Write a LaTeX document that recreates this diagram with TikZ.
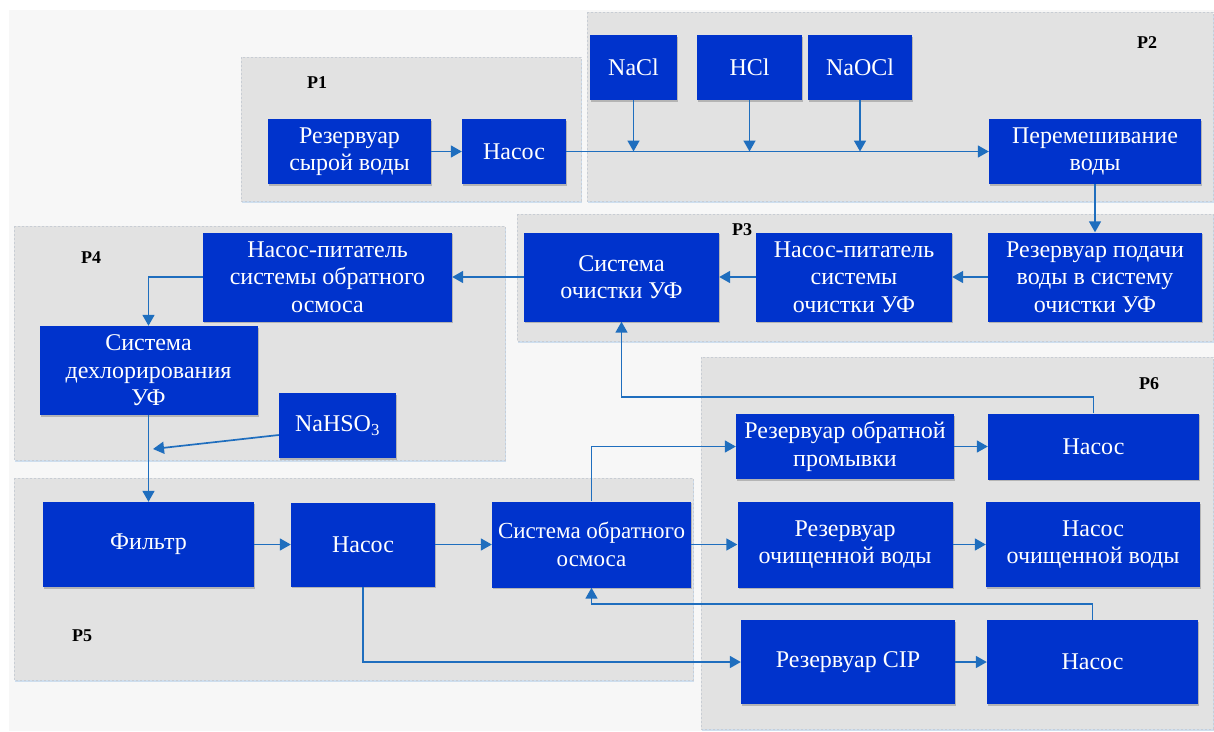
\documentclass[tikz,border=0pt]{standalone}
\usepackage{fontspec}
\setmainfont{Liberation Serif}
\newfontfamily\boxserif{Liberation Serif}
\usetikzlibrary{arrows.meta,shadows}
\definecolor{boxblue}{RGB}{0,51,204}
\definecolor{linkblue}{RGB}{31,110,190}
\definecolor{panelgray}{RGB}{226,226,226}
\definecolor{bggray}{RGB}{247,247,247}
\definecolor{paneledge}{RGB}{200,205,212}
\definecolor{panelshadow}{RGB}{190,212,235}
\begin{document}
\begin{tikzpicture}[x=1pt,y=-1pt,
  panel/.style={fill=panelgray, draw=paneledge, dash pattern=on 2pt off 2pt, line width=0.6pt,
    drop shadow={shadow xshift=0.5pt, shadow yshift=-1.5pt, opacity=0.7, fill=panelshadow}},
  box/.style={fill=boxblue, text=white, align=center, inner sep=0pt,
    font=\boxserif\fontsize{24}{27.5}\selectfont,
    drop shadow={shadow xshift=1pt, shadow yshift=-1.5pt, opacity=0.2, fill=black}},
  lab/.style={font=\boxserif\fontsize{18}{20}\selectfont\bfseries, text=black, inner sep=0pt},
  arr/.style={draw=linkblue, line width=1.7pt, -{Triangle[length=11pt,width=12pt]}}
]
\useasboundingbox (0,0) rectangle (1214,731);
\fill[white] (0,0) rectangle (1214,731);
\fill[bggray] (9,10) rectangle (1214,731);

% panels
\path[panel] (241,57) rectangle (581,201);
\path[panel] (587,12) rectangle (1213,201);
\path[panel] (517,214) rectangle (1213,341);
\path[panel] (14,226) rectangle (505,460);
\path[panel] (14,478) rectangle (693,680);
\path[panel] (701,357) rectangle (1213,729);

% panel labels
\node[lab] (p1) at (317,83) {P1};
\node[lab] (p2) at (1147,43) {P2};
\node[lab] (p3) at (742,230) {P3};
\node[lab] (p4) at (91,258) {P4};
\node[lab] (p5) at (82,636) {P5};
\node[lab] (p6) at (1149,384) {P6};

% P1 / P2
\node[box, minimum width=163pt, minimum height=65pt] (raw) at (349.5,151.5) {Резервуар\\сырой воды};
\node[box, minimum width=104pt, minimum height=65pt] (pump1) at (514,151.5) {Насос};
\node[box, minimum width=87pt, minimum height=65pt] (nacl) at (633.5,67.5) {NaCl};
\node[box, minimum width=105pt, minimum height=65pt] (hcl) at (749.5,67.5) {HCl};
\node[box, minimum width=104pt, minimum height=65pt] (naocl) at (860,67.5) {NaOCl};
\node[box, minimum width=212pt, minimum height=65pt] (mix) at (1095,151.5) {Перемешивание\\воды};

% P3
\node[box, minimum width=214pt, minimum height=89pt] (feed) at (1095,277) {Резервуар подачи\\воды в систему\\очистки УФ};
\node[box, minimum width=196pt, minimum height=89pt] (ufpump) at (854,277) {Насос-питатель\\системы\\очистки УФ};
\node[box, minimum width=195pt, minimum height=89pt] (uf) at (621.5,277) {Система\\очистки УФ};

% P4
\node[box, minimum width=249pt, minimum height=89pt] (ropump) at (327.5,277) {Насос-питатель\\системы обратного\\осмоса};
\node[box, minimum width=218pt, minimum height=89pt] (dechlor) at (148.5,370.5) {Система\\дехлорирования\\УФ};
\node[box, minimum width=117pt, minimum height=65pt] (nahso) at (337.5,425.5) {NaHSO\textsubscript{3}};

% P5
\node[box, minimum width=211pt, minimum height=85pt] (filter) at (148.5,544.5) {Фильтр};
\node[box, minimum width=144pt, minimum height=84pt] (pump5) at (363,544.5) {Насос};
\node[box, minimum width=199pt, minimum height=86pt, font=\boxserif\fontsize{23}{27.5}\selectfont] (ro) at (591.5,544.5) {Система обратного\\осмоса};

% P6
\node[box, minimum width=218pt, minimum height=65pt] (bwtank) at (845,446.5) {Резервуар обратной\\промывки};
\node[box, minimum width=211pt, minimum height=66pt] (bwpump) at (1093.5,446.5) {Насос};
\node[box, minimum width=215pt, minimum height=86pt] (cwtank) at (845,544.5) {Резервуар\\очищенной воды};
\node[box, minimum width=214pt, minimum height=85pt] (cwpump) at (1093,544.5) {Насос\\очищенной воды};
\node[box, minimum width=214pt, minimum height=84pt] (ciptank) at (848,662) {Резервуар CIP};
\node[box, minimum width=211pt, minimum height=84pt] (cippump) at (1092.5,662) {Насос};

% connectors
\draw[arr] (raw) -- (pump1);
\draw[arr] (pump1) -- (mix);
\draw[arr] (nacl.south) -- (nacl.south |- pump1.east);
\draw[arr] (hcl.south) -- (hcl.south |- pump1.east);
\draw[arr] (naocl.south) -- (naocl.south |- pump1.east);
\draw[arr] (mix) -- (feed);
\draw[arr] (feed) -- (ufpump);
\draw[arr] (ufpump) -- (uf);
\draw[arr] (uf) -- (ropump);
\draw[arr] (ropump.west) -| (dechlor.north);
\draw[arr] (dechlor) -- (filter);
\coordinate (dose) at (153,449);
\draw[arr] ([yshift=-9.5pt]nahso.west) -- (dose);
\draw[arr] (filter) -- (pump5);
\draw[arr] (pump5) -- (ro);
\draw[arr] (ro.north) |- (bwtank.west);
\draw[arr] (bwtank) -- (bwpump);
\draw[arr] (bwpump.north) -- ++(0,-16) -| (uf.south);
\draw[arr] (ro) -- (cwtank);
\draw[arr] (cwtank) -- (cwpump);
\draw[arr] (cippump.north) -- ++(0,-16) -| (ro.south);
\draw[arr] (pump5.south) |- (ciptank.west);
\draw[arr] (ciptank) -- (cippump);
\end{tikzpicture}
\end{document}
